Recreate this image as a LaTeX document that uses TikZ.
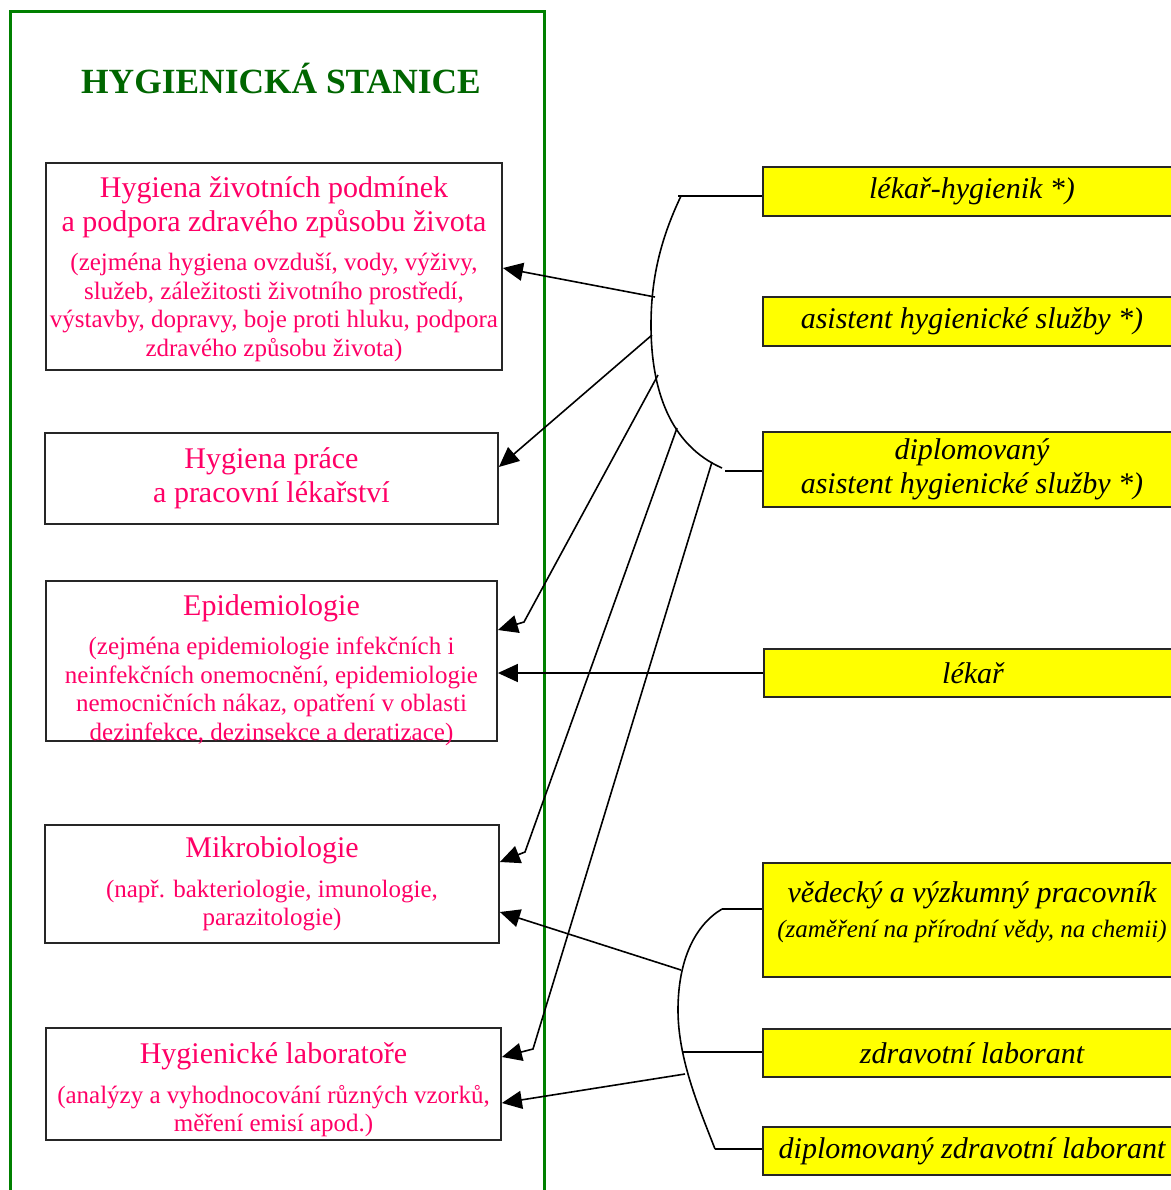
\documentclass[tikz,border=0pt]{standalone}
\usepackage{fontspec}
\setmainfont{Liberation Serif}
\usetikzlibrary{arrows.meta}
\definecolor{ruzova}{RGB}{255,0,102}
\definecolor{zelena}{RGB}{0,128,0}
\definecolor{tmavozelena}{RGB}{0,102,0}
\definecolor{zluta}{RGB}{255,255,0}
\newcommand{\poznamka}[1]{\par\vspace{5.5pt}{\fontsize{12.5}{14.3}\selectfont #1\par}}
\begin{document}
\begin{tikzpicture}[x=0.5pt,y=-0.5pt,->,>={Triangle[length=10pt,width=9pt]},line width=0.8pt,
  obor/.style={draw=black!85,line width=0.9pt,text=ruzova,inner sep=0pt,align=flush center,font=\fontsize{15}{17}\selectfont},
  profese/.style={draw=black!85,line width=0.9pt,fill=zluta,inner sep=0pt,align=flush center,text width=209pt,font=\fontsize{15}{17}\selectfont\itshape}]
\useasboundingbox (0,0) rectangle (1171,1190);
\clip (0,0) rectangle (1171,1190);
\draw[-,zelena,line width=1.5pt] (10,1220) |- (544,11) -- (544,1220);
\node[font=\fontsize{17.7}{20}\selectfont\bfseries,text=tmavozelena] (stanice) at (281,78) {HYGIENICKÁ STANICE};

\node[obor,minimum width=228pt,minimum height=103.5pt] (zivot) at (274,266.5) {};
\node[obor,draw=none,text width=228pt] (zivot-t) at (274,269) {Hygiena životních podmínek\\ a podpora zdravého způsobu života\poznamka{(zejména hygiena ovzduší, vody, výživy,\\ služeb, záležitosti životního prostředí,\\ výstavby, dopravy, boje proti hluku, podpora\\ zdravého způsobu života)}};
\node[obor,text width=226.5pt,minimum height=45.5pt] (prace) at (271.5,478.5) {Hygiena práce\\ a pracovní lékařství};
\node[obor,minimum width=225.5pt,minimum height=80pt] (epid) at (271.5,661) {};
\node[obor,draw=none,text width=225.5pt] (epid-t) at (271.5,670) {Epidemiologie\poznamka{(zejména epidemiologie infekčních i\\ neinfekčních onemocnění, epidemiologie\\ nemocničních nákaz, opatření v oblasti\\ dezinfekce, dezinsekce a deratizace)}};
\node[obor,text width=227pt,minimum height=59pt] (mikro) at (272,884) {Mikrobiologie\poznamka{(např. bakteriologie, imunologie,\\ parazitologie)}};
\node[obor,minimum width=227.5pt,minimum height=56pt] (lab) at (273.5,1084) {};
\node[obor,draw=none,text width=227.5pt] (lab-t) at (273.5,1090) {Hygienické laboratoře\poznamka{(analýzy a vyhodnocování různých vzorků,\\ měření emisí apod.)}};

\node[profese,minimum height=24.5pt] (lh) at (972,191.5) {lékař-hygienik *)};
\node[profese,minimum height=24.5pt] (ahs) at (972,321.5) {asistent hygienické služby *)};
\node[profese,minimum height=37.5pt] (dahs) at (972,469.5) {diplomovaný\\ asistent hygienické služby *)};
\node[profese,minimum height=24pt] (lekar) at (973,673) {lékař};
\node[profese,minimum height=57pt] (vedec) at (972,920) {};
\node[profese,draw=none,fill=none] (vedec-t) at (972,912) {vědecký a výzkumný pracovník\par\vspace{3.5pt}{\fontsize{12.5}{14}\selectfont (zaměření na přírodní vědy, na chemii)\par}};
\node[profese,minimum height=24pt] (zl) at (972,1053) {zdravotní laborant};
\node[profese,minimum height=24pt] (dzl) at (972,1151) {diplomovaný zdravotní laborant};

\coordinate (zh) at (681,196);
\coordinate (zd) at (722,468);
\coordinate (zk) at (725,471);
\draw[-] (zh) .. controls (660,240) and (651,280) .. (651,325) .. controls (651,390) and (670,445) .. (zd);
\draw[-] ([xshift=-1.5pt]zh) -- (lh.west |- zh);
\draw[-] (zk) -- (dahs.west |- zk);
\coordinate (z1) at (655,297);
\coordinate (z2) at (652,335);
\coordinate (z3) at (658,375);
\coordinate (z4) at (677,428);
\coordinate (z5) at (712,462);
\draw (z1) -- (zivot.east |- 0,268);
\draw (z2) -- (prace.east |- 0,467);
\draw (z3) -- (524,622) -- (epid.east |- 0,630);
\draw (z4) -- (525,852) -- (mikro.east |- 0,862);
\draw (z5) -- (533,1049) -- (lab.east |- 0,1057);
\draw (lekar) -- (epid.east |- lekar);

\coordinate (vh) at (722,909);
\coordinate (vd) at (715,1149);
\draw[-] (vh) .. controls (695,925) and (678,960) .. (678,1010) .. controls (678,1060) and (700,1110) .. (vd);
\draw[-] (vh) -- (vedec.west |- vh);
\coordinate (v2) at (683,1052);
\draw[-] (v2) -- (zl.west |- v2);
\draw[-] (vd) -- (dzl.west |- vd);
\coordinate (v1) at (681,970);
\coordinate (v3) at (685,1074);
\draw (v1) -- (mikro.east |- 0,912);
\draw (v3) -- (lab.east |- 0,1103);
\end{tikzpicture}
\end{document}
